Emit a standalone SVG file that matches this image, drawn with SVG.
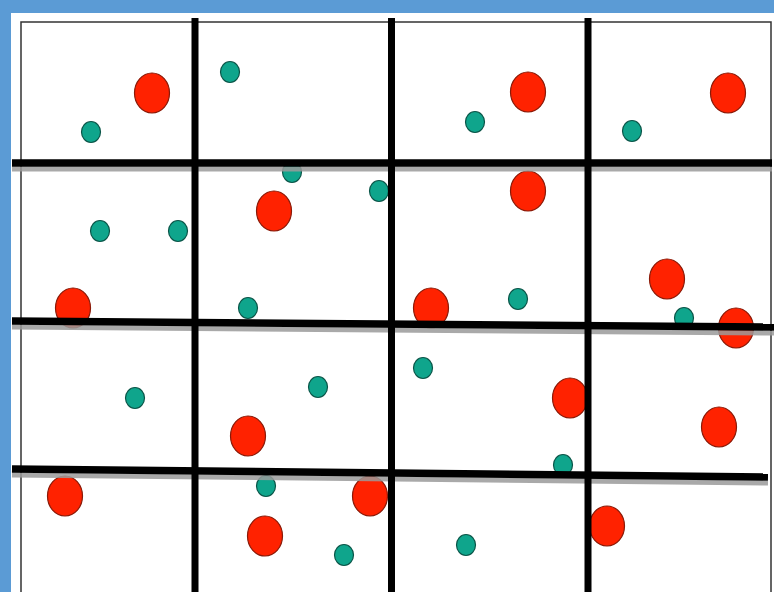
<svg xmlns="http://www.w3.org/2000/svg" width="774" height="592" viewBox="0 0 774 592">
<style>
.r{fill:#ff2200;stroke:#8a1a08;stroke-width:1.2}
.t{fill:#0fa58c;stroke:#0b5548;stroke-width:1.2}
.sh{stroke:#9a9a9a;stroke-width:5;fill:none;opacity:0.85}
.h{stroke:#000;stroke-width:7.5;fill:none}
.v{stroke:#000;stroke-width:7;fill:none}
</style>
<rect x="0" y="0" width="774" height="592" fill="#5b9bd5"/>
<rect x="11" y="13" width="763" height="579" fill="#fff"/>
<rect x="21" y="22" width="750" height="580" fill="none" stroke="#333" stroke-width="1.5"/>
<g id="dots">
<ellipse class="r" cx="152" cy="93" rx="17.5" ry="20"/>
<ellipse class="r" cx="528" cy="92" rx="17.5" ry="20"/>
<ellipse class="r" cx="728" cy="93" rx="17.5" ry="20"/>
<ellipse class="r" cx="274" cy="211" rx="17.5" ry="20"/>
<ellipse class="r" cx="528" cy="191" rx="17.5" ry="20"/>
<ellipse class="r" cx="73" cy="308" rx="17.5" ry="20"/>
<ellipse class="r" cx="431" cy="308" rx="17.5" ry="20"/>
<ellipse class="r" cx="667" cy="279" rx="17.5" ry="20"/>
<ellipse class="r" cx="736" cy="328" rx="17.5" ry="20"/>
<ellipse class="r" cx="570" cy="398" rx="17.5" ry="20"/>
<ellipse class="r" cx="719" cy="427" rx="17.5" ry="20"/>
<ellipse class="r" cx="248" cy="436" rx="17.5" ry="20"/>
<ellipse class="r" cx="65" cy="496" rx="17.5" ry="20"/>
<ellipse class="r" cx="370" cy="496" rx="17.5" ry="20"/>
<ellipse class="r" cx="265" cy="536" rx="17.5" ry="20"/>
<ellipse class="r" cx="607" cy="526" rx="17.5" ry="20"/>
<ellipse class="t" cx="91" cy="132" rx="9.5" ry="10.5"/>
<ellipse class="t" cx="230" cy="72" rx="9.5" ry="10.5"/>
<ellipse class="t" cx="475" cy="122" rx="9.5" ry="10.5"/>
<ellipse class="t" cx="632" cy="131" rx="9.5" ry="10.5"/>
<ellipse class="t" cx="292" cy="172" rx="9.5" ry="10.5"/>
<ellipse class="t" cx="379" cy="191" rx="9.5" ry="10.5"/>
<ellipse class="t" cx="100" cy="231" rx="9.5" ry="10.5"/>
<ellipse class="t" cx="178" cy="231" rx="9.5" ry="10.5"/>
<ellipse class="t" cx="248" cy="308" rx="9.5" ry="10.5"/>
<ellipse class="t" cx="518" cy="299" rx="9.5" ry="10.5"/>
<ellipse class="t" cx="684" cy="318" rx="9.5" ry="10.5"/>
<ellipse class="t" cx="423" cy="368" rx="9.5" ry="10.5"/>
<ellipse class="t" cx="135" cy="398" rx="9.5" ry="10.5"/>
<ellipse class="t" cx="318" cy="387" rx="9.5" ry="10.5"/>
<ellipse class="t" cx="563" cy="465" rx="9.5" ry="10.5"/>
<ellipse class="t" cx="266" cy="486" rx="9.5" ry="10.5"/>
<ellipse class="t" cx="344" cy="555" rx="9.5" ry="10.5"/>
<ellipse class="t" cx="466" cy="545" rx="9.5" ry="10.5"/>
</g>
<g id="grid">
<line class="sh" x1="12" y1="169" x2="772" y2="169"/>
<line class="sh" x1="12" y1="327" x2="774" y2="333"/>
<line class="sh" x1="12" y1="475" x2="768" y2="483"/>
<line class="v" x1="195" y1="18" x2="195" y2="592"/>
<line class="v" x1="391.5" y1="18" x2="391.5" y2="592"/>
<line class="v" x1="588" y1="18" x2="588" y2="592"/>
<line class="h" x1="12" y1="163" x2="772" y2="163"/>
<line class="h" x1="12" y1="321" x2="774" y2="327"/>
<line class="h" x1="12" y1="469" x2="768" y2="477"/>
</g>
</svg>
